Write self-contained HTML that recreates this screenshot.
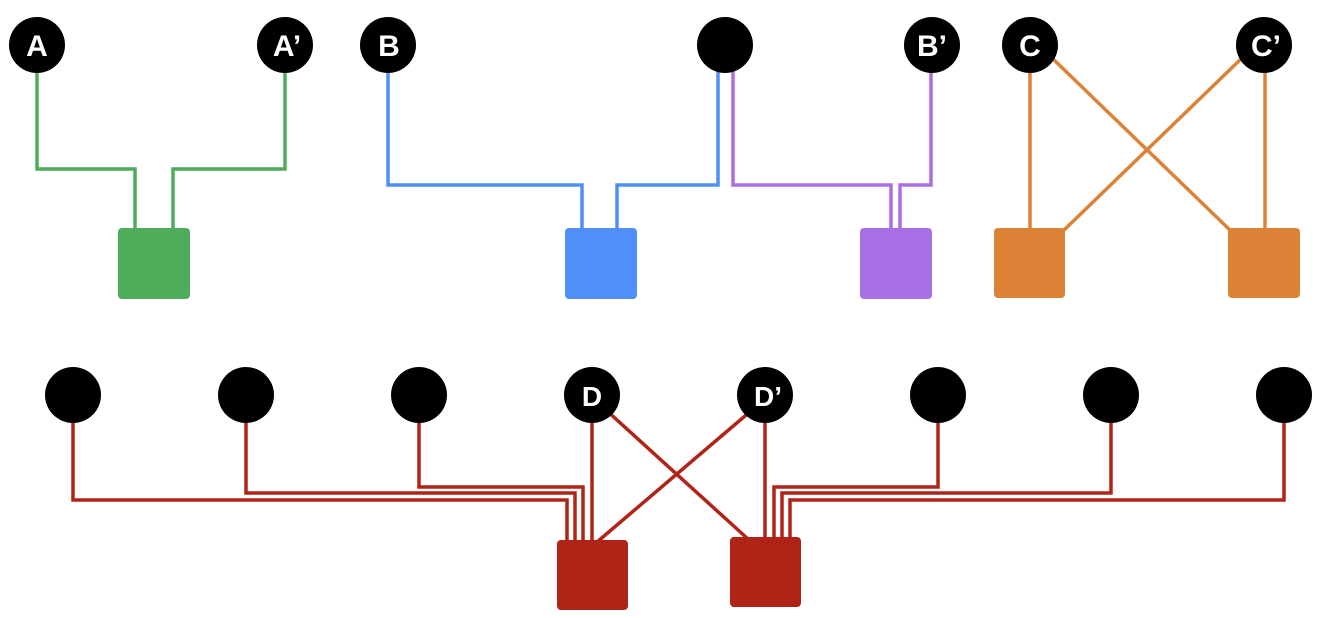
<!DOCTYPE html>
<html><head><meta charset="utf-8"><style>
html,body{margin:0;padding:0;background:#fff;}
svg{display:block;}
text{font-family:"Liberation Sans",sans-serif;font-weight:bold;fill:#fff;font-size:30px;text-anchor:middle;}
</style></head><body>
<svg width="1340" height="618" viewBox="0 0 1340 618" xmlns="http://www.w3.org/2000/svg">
<g fill="none" stroke-width="3.5" stroke-linejoin="miter">
<!-- green -->
<g stroke="#4fac5b">
<polyline points="37,60 37,169 135,169 135,230"/>
<polyline points="285,60 285,169 173,169 173,230"/>
</g>
<!-- blue -->
<g stroke="#4f8ff7">
<polyline points="388,60 388,185 582,185 582,230"/>
<polyline points="718,60 718,185 617,185 617,230"/>
</g>
<!-- purple -->
<g stroke="#a96fe6">
<polyline points="733,60 733,185 891,185 891,230"/>
<polyline points="931,60 931,185 900,185 900,230"/>
</g>
<!-- orange -->
<g stroke="#dc8236">
<line x1="1030" y1="60" x2="1030" y2="230"/>
<line x1="1265" y1="60" x2="1265" y2="230"/>
<line x1="1052" y1="58" x2="1232" y2="232"/>
<line x1="1242" y1="58" x2="1062" y2="232"/>
</g>
<!-- red -->
<g stroke="#b02418">
<polyline points="73,410 73,500 567,500 567,542"/>
<polyline points="246,410 246,493 575,493 575,542"/>
<polyline points="419,410 419,487 583,487 583,542"/>
<line x1="592" y1="410" x2="592" y2="542"/>
<line x1="765" y1="410" x2="765" y2="539"/>
<polyline points="938,410 938,487 774,487 774,539"/>
<polyline points="1111,410 1111,493 782,493 782,539"/>
<polyline points="1284,410 1284,500 790,500 790,539"/>
<line x1="606" y1="410" x2="748" y2="539"/>
<line x1="752" y1="410" x2="597" y2="542"/>
</g>
</g>
<!-- boxes -->
<rect x="118" y="228" width="72" height="71" rx="4" fill="#4fac5b"/>
<rect x="565" y="228" width="72" height="71" rx="4" fill="#4f8ff7"/>
<rect x="860" y="228" width="72" height="71" rx="4" fill="#a96fe6"/>
<rect x="994" y="228" width="71" height="70" rx="4" fill="#dc8236"/>
<rect x="1228" y="228" width="72" height="70" rx="4" fill="#dc8236"/>
<rect x="557" y="540" width="71" height="70" rx="4" fill="#b02418"/>
<rect x="730" y="537" width="71" height="70" rx="4" fill="#b02418"/>
<!-- circles -->
<g fill="#000">
<circle cx="37" cy="45" r="28"/>
<circle cx="285" cy="45" r="28"/>
<circle cx="388" cy="45" r="28"/>
<circle cx="725" cy="45" r="28"/>
<circle cx="932" cy="45" r="28"/>
<circle cx="1030" cy="45" r="28"/>
<circle cx="1264" cy="45" r="28"/>
<circle cx="73" cy="395" r="28"/>
<circle cx="246" cy="395" r="28"/>
<circle cx="419" cy="395" r="28"/>
<circle cx="592" cy="395" r="28"/>
<circle cx="765" cy="395" r="28"/>
<circle cx="938" cy="395" r="28"/>
<circle cx="1111" cy="395" r="28"/>
<circle cx="1284" cy="395" r="28"/>
</g>
<text x="37" y="56">A</text>
<text x="287" y="56">A’</text>
<text x="389" y="56">B</text>
<text x="932" y="56">B’</text>
<text x="1030" y="56">C</text>
<text x="1266" y="56">C’</text>
<text x="592" y="406" style="font-size:28px">D</text>
<text x="768" y="406" style="font-size:28px">D’</text>
</svg>
</body></html>
